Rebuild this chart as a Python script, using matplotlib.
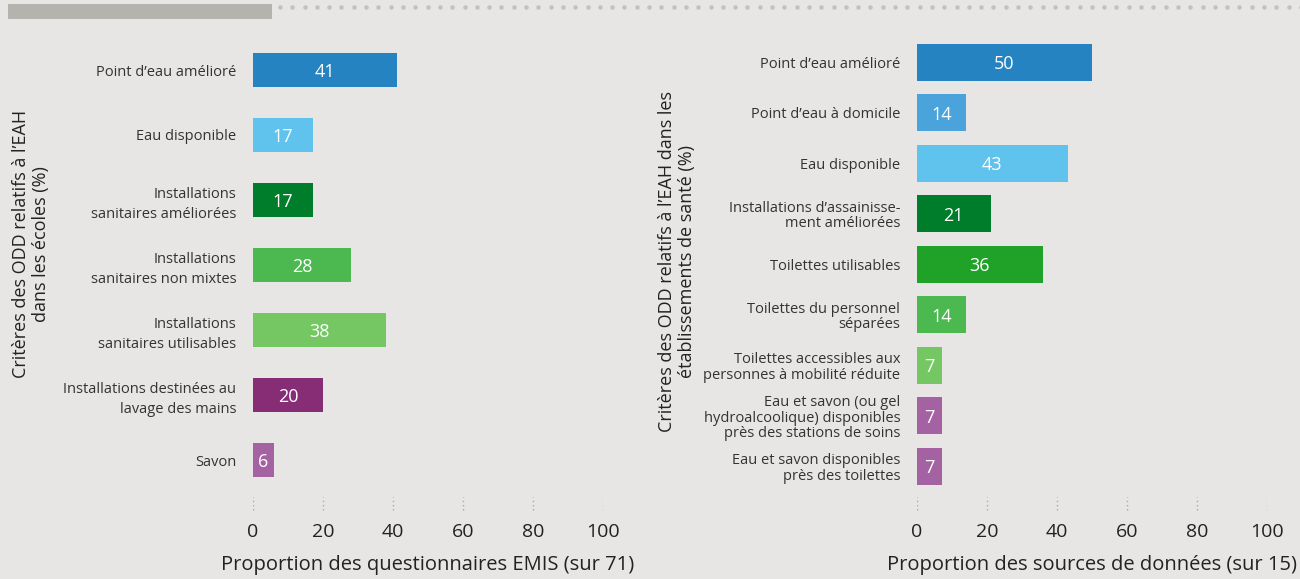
import matplotlib.pyplot as plt
from matplotlib.patches import Rectangle
from matplotlib.transforms import blended_transform_factory

plt.rcParams['font.family'] = ['Open Sans', 'DejaVu Sans']

# schools (EMIS questionnaires)
school_labels = ["Point d\u2019eau amélioré", "Eau disponible",
                 "Installations\nsanitaires améliorées",
                 "Installations\nsanitaires non mixtes",
                 "Installations\nsanitaires utilisables",
                 "Installations destinées au\nlavage des mains", "Savon"]
school_values = [41, 17, 17, 28, 38, 20, 6]
school_colors = ['#2683c2', '#60c3ee', '#007d2a', '#4cb850', '#74c762', '#862d76', '#a462a2']

# health care facilities (data sources)
health_labels = ["Point d\u2019eau amélioré", "Point d\u2019eau à domicile", "Eau disponible",
                 "Installations d\u2019assainisse-\nment améliorées", "Toilettes utilisables",
                 "Toilettes du personnel\nséparées",
                 "Toilettes accessibles aux\npersonnes à mobilité réduite",
                 "Eau et savon (ou gel\nhydroalcoolique) disponibles\nprès des stations de soins",
                 "Eau et savon disponibles\nprès des toilettes"]
health_values = [50, 14, 43, 21, 36, 14, 7, 7, 7]
health_colors = ['#2683c2', '#4aa3da', '#60c3ee', '#007d2a', '#20a229', '#4cb850',
                 '#74c762', '#a462a2', '#a462a2']

xticks = [0, 20, 40, 60, 80, 100]
bg = '#e7e6e4'
W, H = 1300, 579

fig = plt.figure(figsize=(13, 5.79), dpi=100, facecolor=bg)


def make_panel(left_px, scale, y0_px, labels, values, colors, bar_h, linesp, xlabel):
    ax = fig.add_axes([left_px / W, 1 - 512 / H, 350 / W, 472 / H])
    ax.set_facecolor(bg)
    ytop = -(y0_px - 40) / scale
    ybot = ytop + 472 / scale
    pos = list(range(len(values)))
    ax.barh(pos, values, height=bar_h, color=colors)
    for p, v in zip(pos, values):
        ax.text(v / 2, p, str(v), ha='center', va='center_baseline', color='white',
                fontsize=13)
    ax.set_xlim(0, 100)
    ax.set_ylim(ybot, ytop)
    ax.set_yticks(pos)
    ax.set_yticklabels(labels, fontsize=10.5, color='#333333', linespacing=linesp)
    ax.set_xticks(xticks)
    ax.set_xticklabels([str(t) for t in xticks], fontsize=14, color='#222222')
    ax.tick_params(axis='both', length=0)
    ax.tick_params(axis='y', pad=12)
    ax.tick_params(axis='x', pad=8)
    for s in ax.spines.values():
        s.set_visible(False)
    trans = blended_transform_factory(ax.transData, ax.transAxes)
    ax.vlines(xticks, 0.004, 0.032, transform=trans, colors='#a9a8a5',
              linestyles=(0, (1, 2)), linewidth=1)
    ax.set_xlabel(xlabel, fontsize=14.5, color='#222222', labelpad=10)
    return ax


make_panel(253, 65, 70, school_labels, school_values, school_colors, 0.52, 1.45,
           "Proportion des questionnaires EMIS (sur 71)")
make_panel(917, 50.5, 62.3, health_labels, health_values, health_colors, 0.73, 1.05,
           "Proportion des sources de données (sur 15)")

fig.text(31 / W, 1 - 244 / H, "Critères des ODD relatifs à l\u2019EAH\ndans les écoles (%)",
         rotation=90, ha='center', va='center', multialignment='center',
         fontsize=13, color='#222222')
fig.text(677 / W, 1 - 262 / H,
         "Critères des ODD relatifs à l\u2019EAH dans les\nétablissements de santé (%)",
         rotation=90, ha='center', va='center', multialignment='center',
         fontsize=13, color='#222222')

# header decoration
fig.add_artist(Rectangle((8 / W, 1 - 19 / H), 264 / W, 15 / H, transform=fig.transFigure,
                         facecolor='#b5b3ae', edgecolor='none'))
dots_x = [(280 + 12.3 * i) / W for i in range(84)]
fig.add_artist(plt.Line2D(dots_x, [1 - 6.5 / H] * len(dots_x), transform=fig.transFigure,
                          linestyle='none', marker='o', markersize=3.2,
                          color='#c2c1be', markeredgewidth=0))

fig.savefig('out.png', dpi=100, facecolor=bg)
